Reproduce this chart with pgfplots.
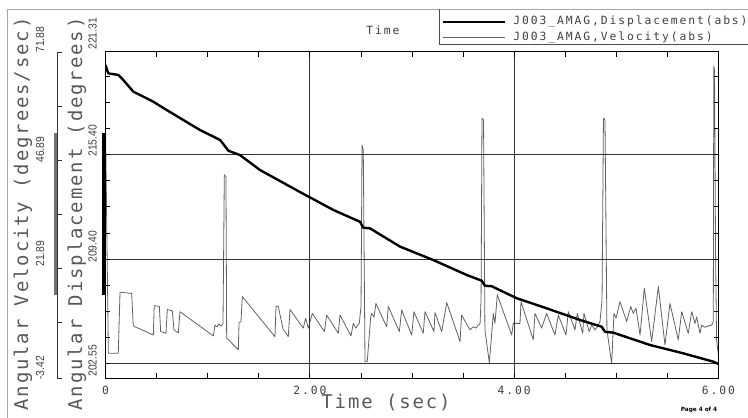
\documentclass[border=0pt]{standalone}
\usepackage{pgfplots}
\pgfplotsset{compat=1.18}
\usepackage{fontspec}
\newfontfamily\bigf[LetterSpace=10]{DejaVu Sans Mono}
\newfontfamily\monof[LetterSpace=17]{DejaVu Sans Mono}
\newfontfamily\numf[FakeStretch=0.88]{Liberation Sans}
\newfontfamily\pagef{DejaVu Sans}
\newcommand{\bigfont}{\fontsize{14.2}{17}\bigf}
\newcommand{\tickfont}{\fontsize{8.5}{10}\monof}
\newcommand{\yfont}{\fontsize{8.8}{10}\numf}

\begin{document}
\begin{tikzpicture}
% velocity (its scale is drawn by hand on the left)
\begin{axis}[
    at={(79.125pt,-283.5pt)}, anchor=south west,
    scale only axis, width=459.75pt, height=244.5pt,
    xmin=0, xmax=6, ymin=-3.42, ymax=71.88,
    hide axis, clip=false,
]
\addplot[black!62, line width=0.6pt, line join=round] coordinates {
(0.000,55.0) (0.028,2.3) (0.125,2.3) (0.142,16.4) (0.256,16.1) (0.272,8.6)
(0.468,6.5) (0.477,13.3) (0.527,13.1) (0.540,7.3) (0.592,6.9) (0.605,12.4)
(0.654,12.1) (0.670,7.7) (0.713,7.0) (0.729,11.9) (1.055,6.3) (1.072,8.8)
(1.091,8.4) (1.111,9.1) (1.130,8.6) (1.150,9.1) (1.163,43.5) (1.179,43.1)
(1.186,5.8) (1.300,3.1) (1.307,9.4) (1.326,9.6) (1.339,15.4) (1.659,6.1)
(1.669,13.2) (1.691,13.1) (1.740,7.7) (1.757,7.3) (1.789,6.1) (1.806,12.4)
(1.936,8.1) (1.959,10.4) (1.985,8.1) (2.024,11.5) (2.142,7.3) (2.165,11.1)
(2.279,6.9) (2.295,11.1) (2.403,6.3) (2.425,9.2) (2.449,8.1) (2.468,8.8)
(2.484,9.2) (2.501,13.1) (2.511,50.4) (2.523,49.2) (2.540,0.4) (2.562,0.4)
(2.596,10.7) (2.605,11.5) (2.628,10.6) (2.647,13.8) (2.752,8.4) (2.768,13.1)
(2.876,7.3) (2.899,12.3) (2.997,6.5) (3.019,11.9) (3.110,6.9) (3.127,11.9)
(3.215,7.3) (3.225,11.7) (3.291,7.3) (3.340,14.0) (3.470,5.0) (3.486,11.1)
(3.568,7.7) (3.600,8.4) (3.626,8.1) (3.649,8.8) (3.666,9.1) (3.676,14.6)
(3.685,56.6) (3.700,56.2) (3.714,7.7) (3.757,0.1) (3.796,11.5) (3.812,9.2)
(3.835,15.8) (3.976,6.5) (3.991,9.2) (4.057,9.2) (4.067,14.2) (4.187,5.4)
(4.204,11.5) (4.269,8.1) (4.318,11.5) (4.399,6.5) (4.432,11.1) (4.507,6.5)
(4.530,11.9) (4.595,7.7) (4.618,11.5) (4.671,6.9) (4.683,11.5) (4.735,7.3)
(4.759,8.8) (4.791,7.7) (4.814,8.4) (4.840,9.6) (4.860,14.6) (4.874,56.6)
(4.889,56.2) (4.908,7.7) (4.954,0.0) (4.977,11.5) (4.997,10.4) (5.036,14.2)
(5.101,9.6) (5.141,13.1) (5.166,11.5) (5.192,12.7) (5.232,6.5) (5.274,17.3)
(5.346,5.0) (5.411,17.7) (5.476,4.2) (5.525,13.8) (5.606,5.4) (5.640,11.9)
(5.704,6.9) (5.738,11.9) (5.770,9.2) (5.786,10.7) (5.819,6.9) (5.835,8.8)
(5.868,8.3) (5.900,8.6) (5.933,8.8) (5.949,9.6) (5.954,68.6) (5.961,67.7)
(5.971,26.2) (5.981,5.4) (6.000,1.7)
};
\end{axis}
% displacement
\begin{axis}[
    at={(79.125pt,-283.5pt)}, anchor=south west,
    scale only axis, width=459.75pt, height=244.5pt,
    xmin=0, xmax=6, ymin=202.55, ymax=221.31,
    axis line style={black, line width=0.75pt},
    tick align=inside, tick pos=both,
    xtick={0,2,4,6}, minor xtick={0.5,1,1.5,2.5,3,3.5,4.5,5,5.5},
    ytick={203.4,209.4,215.4},
    minor ytick={204.9,206.4,207.9,210.9,212.4,213.9,216.9,218.4,219.9},
    major tick length=3.4pt, minor tick length=3.4pt,
    tick style={black, line width=0.6pt},
    xmajorgrids, ymajorgrids,
    grid style={black!80, line width=0.6pt},
    xticklabels={0,2.00,4.00,6.00},
    yticklabels={},
    xticklabel style={font=\tickfont, text=black!75, yshift=-2.6pt},
]
\addplot[black, line width=1.8pt, line join=round] coordinates {
(0.000,220.56) (0.027,220.08) (0.125,219.99) (0.174,219.70) (0.272,219.03)
(0.468,218.45) (0.599,217.97) (0.925,216.82) (1.121,216.25) (1.160,215.96)
(1.202,215.63) (1.316,215.38) (1.512,214.52) (1.904,213.25) (2.230,212.22)
(2.491,211.54) (2.523,211.20) (2.589,211.16) (2.883,210.11) (3.208,209.34)
(3.535,208.48) (3.682,208.15) (3.714,207.86) (3.780,207.83) (4.025,207.14)
(4.318,206.56) (4.644,205.89) (4.857,205.50) (4.889,205.21) (4.970,205.16)
(5.329,204.45) (5.655,203.97) (5.949,203.49) (6.000,203.36)
};
\end{axis}
% page furniture, in pixel units of the reference
\begin{scope}[x=0.75pt, y=-0.75pt]
\draw[black!35, line width=0.75pt] (7,430) -- (7,9.5) -- (760,9.5);
\draw[black!70, line width=0.75pt] (760,45) -- (439,45) -- (439,9.5);
\draw[black, line width=1.8pt] (443,22) -- (505,22);
\draw[black!60, line width=0.75pt] (443,37.5) -- (505,37.5);
\node[anchor=west, inner sep=0pt, font=\tickfont, text=black!75] at (513,22) {J003\_AMAG,Displacement(abs)};
\node[anchor=west, inner sep=0pt, font=\tickfont, text=black!75] at (513,37.5) {J003\_AMAG,Velocity(abs)};
\node[inner sep=0pt, font=\tickfont, text=black!75] at (383,30) {Time};
\node[inner sep=0pt, font=\bigfont, text=black!65] at (386,403) {Time (sec)};
\node[inner sep=0pt, font=\bigfont, text=black!65, rotate=90] at (23,214) {Angular Velocity (degrees/sec)};
\node[inner sep=0pt, font=\bigfont, text=black!65, rotate=90] at (77,214) {Angular Displacement (degrees)};
% velocity scale
\draw[black!80, line width=0.6pt] (62,52) -- (57,52) -- (57,378) -- (62,378);
\draw[black!80, line width=0.6pt] (57,106.1) -- (62,106.1) (57,160.2) -- (62,160.2)
  (57,214.3) -- (62,214.3) (57,268.4) -- (62,268.4) (57,322.5) -- (62,322.5);
\draw[black!55, line width=1.6pt] (55.5,133) -- (55.5,295);
\draw[black, line width=1.9pt] (103.3,133) -- (103.3,295);
\foreach \y/\t in {380/-3.42, 267/21.89, 163/46.89, 53/71.88}
  \node[rotate=90, anchor=west, inner sep=0pt, font=\yfont, text=black!75] at (40,\y) {\t};
\foreach \y/\t in {377/202.55, 263/209.40, 157/215.40, 50/221.31}
  \node[rotate=90, anchor=west, inner sep=0pt, font=\yfont, text=black!75] at (92.5,\y) {\t};
\node[inner sep=0pt, font=\fontsize{4.3}{5}\pagef\bfseries] at (699,410) {Page 4 of 4};
\pgfresetboundingbox
\path (0,0) rectangle (748,417);
\end{scope}
\end{tikzpicture}
\end{document}
